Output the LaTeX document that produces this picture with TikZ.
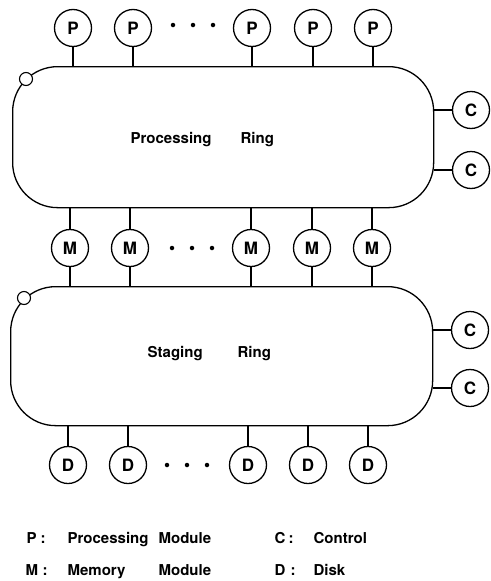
\documentclass[tikz,border=0pt]{standalone}
\usepackage{fontspec}
\setmainfont{TeX Gyre Heros}
\begin{document}
\begin{tikzpicture}[x=1pt,y=-1pt,line width=1.3pt,
  lbl/.style={font=\fontsize{15}{18}\selectfont\bfseries},
  ring/.style={draw,rounded corners=45pt,inner sep=0pt,anchor=north west},
  unit/.style={draw,circle,minimum size=37pt,inner sep=0pt,font=\fontsize{17}{20}\selectfont\bfseries},
  tap/.style={draw,fill=white,circle,minimum size=13pt,inner sep=0pt,line width=1.1pt},
  dot/.style={fill,circle,minimum size=4.5pt,inner sep=0pt},
  txt/.style={lbl,anchor=base west,inner sep=0pt}]
\useasboundingbox (0,0) rectangle (490,581);

% the two rings
\node[ring,minimum width=421pt,minimum height=141pt] (proc) at (12,66) {};
\node[ring,minimum width=422pt,minimum height=139pt] (stag) at (10,286) {};
\node[tap] (t1) at (26,79) {};
\node[tap] (t2) at (24,298) {};

% processing modules
\foreach \n/\x in {1/73,2/133,3/252,4/313,5/373}{
  \node[unit] (p\n) at (\x,28) {P};
  \draw (p\n) -- (p\n |- proc.north);
}
% memory modules between the rings
\foreach \n/\x in {1/70,2/130,3/251,4/312,5/372}{
  \node[unit] (m\n) at (\x,248) {M};
  \draw (m\n |- proc.south) -- (m\n) -- (m\n |- stag.north);
}
% disks
\foreach \n/\x in {1/68,2/128,3/248,4/308,5/368}{
  \node[unit] (d\n) at (\x,465) {D};
  \draw (d\n) -- (d\n |- stag.south);
}
% control units
\foreach \n/\y in {1/110,2/170}{
  \node[unit] (cp\n) at (471,\y) {C};
  \draw (cp\n) -- (cp\n -| proc.east);
}
\foreach \n/\y in {1/330,2/388}{
  \node[unit] (cs\n) at (470,\y) {C};
  \draw (cs\n) -- (cs\n -| stag.east);
}

% ellipses
\foreach \y/\a in {25/173,248/172,465/167}{
  \node[dot] at (\a,\y) {};
  \node[dot] at (\a+20,\y) {};
  \node[dot] at (\a+40,\y) {};
}

% ring names
\node[txt] (pr1) at (130,143.5) {Processing};
\node[txt] (pr2) at (240,143.5) {Ring};
\node[txt] (sr1) at (147,357.5) {Staging};
\node[txt] (sr2) at (237,357.5) {Ring};

% legend
\node[txt] (k1) at (26,543.5) {P};
\node[txt] (k1c) at (40,543.5) {:};
\node[txt] (k1t) at (67,543.5) {Processing};
\node[txt] (k1u) at (158,543.5) {Module};
\node[txt] (k2) at (25,575) {M};
\node[txt] (k2c) at (42,575) {:};
\node[txt] (k2t) at (67,575) {Memory};
\node[txt] (k2u) at (158,575) {Module};
\node[txt] (k3) at (274,543.5) {C};
\node[txt] (k3c) at (288,543.5) {:};
\node[txt] (k3t) at (313,543.5) {Control};
\node[txt] (k4) at (274,575) {D};
\node[txt] (k4c) at (290,575) {:};
\node[txt] (k4t) at (313,575) {Disk};
\end{tikzpicture}
\end{document}
